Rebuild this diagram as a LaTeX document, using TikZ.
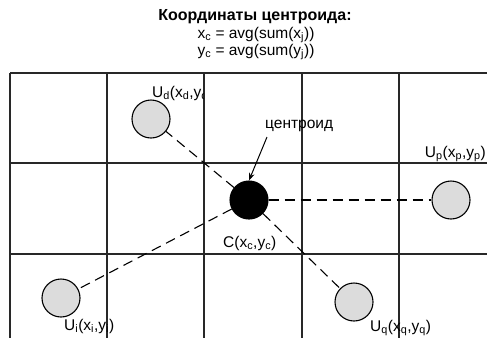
\documentclass[tikz,border=0pt]{standalone}
\usepackage{fontspec}
\setmainfont{Liberation Sans}
\usepackage{tikz}
\usetikzlibrary{arrows.meta,positioning}
\definecolor{pointgray}{RGB}{220,220,220}
\definecolor{gridgray}{RGB}{40,40,40}
\newcommand{\lo}[1]{\textsubscript{#1}}
\tikzset{
	>=Stealth,
	point/.style={
		circle,
		draw,
		line width=1.1pt,
		minimum size=38pt,
		inner sep=0pt,
		fill=pointgray
	},
	centre/.style={
		point,
		fill=black
	},
	gridline/.style={
		draw=gridgray,
		line width=1.1pt
	},
	link/.style={
		dash pattern=on 10pt off 6pt,
		line width=1.1pt
	},
	lbl/.style={
		inner sep=0pt,
		font=\fontsize{15.5}{18}\selectfont
	}
}
\begin{document}
\begin{tikzpicture}[x=1pt,y=-1pt]
	\useasboundingbox (0,0) rectangle (487,338);
	
	% Title
	\node[lbl,font=\fontsize{16}{19}\selectfont\bfseries] (title) at (255,17) {Координаты центроида:};
	\node[lbl] (fx) at (256,35) {x\lo{c} = avg(sum(x\lo{j}))};
	\node[lbl] (fy) at (256,52) {y\lo{c} = avg(sum(y\lo{j}))};
	
	% Grid
	\foreach \y in {73,163,254}
		\draw[gridline] (10,\y) -- (487,\y);
	\foreach \x in {10,107,204,302,399}
		\draw[gridline] (\x,73) -- (\x,338);
	
	% Points
	\node[centre] (C) at (249,200) {};
	\node[point] (Ud) at (151,119) {};
	\node[point] (Up) at (451,200) {};
	\node[point] (Ui) at (61,298) {};
	\node[point] (Uq) at (354,302) {};
	
	% Links to centroid
	\draw[link] (C) -- (Ud);
	\draw[link] (C) -- (Up);
	\draw[link] (C) -- (Ui);
	\draw[link] (C) -- (Uq);
	
	% Labels
	\begin{scope}
		\clip (0,73) rectangle (203,338);
		\node[lbl,anchor=west] (lUd) at (152,93) {U\lo{d}(x\lo{d},y\lo{d})};
	\end{scope}
	\node[lbl,anchor=east] (lUp) at (486,154) {U\lo{p}(x\lo{p},y\lo{p})};
	\node[lbl,anchor=west] (lUi) at (64,326) {U\lo{i}(x\lo{i},y\lo{i})};
	\node[lbl,anchor=west] (lUq) at (370,328) {U\lo{q}(x\lo{q},y\lo{q})};
	\node[lbl,anchor=west] (lC) at (223,243) {C(x\lo{c},y\lo{c})};
	\node[lbl,anchor=west] (lcen) at (265,126) {центроид};
	
	% Pointer
	\draw[->,line width=1pt] (267,137) -- (C.north);
	
\end{tikzpicture}
\end{document}
